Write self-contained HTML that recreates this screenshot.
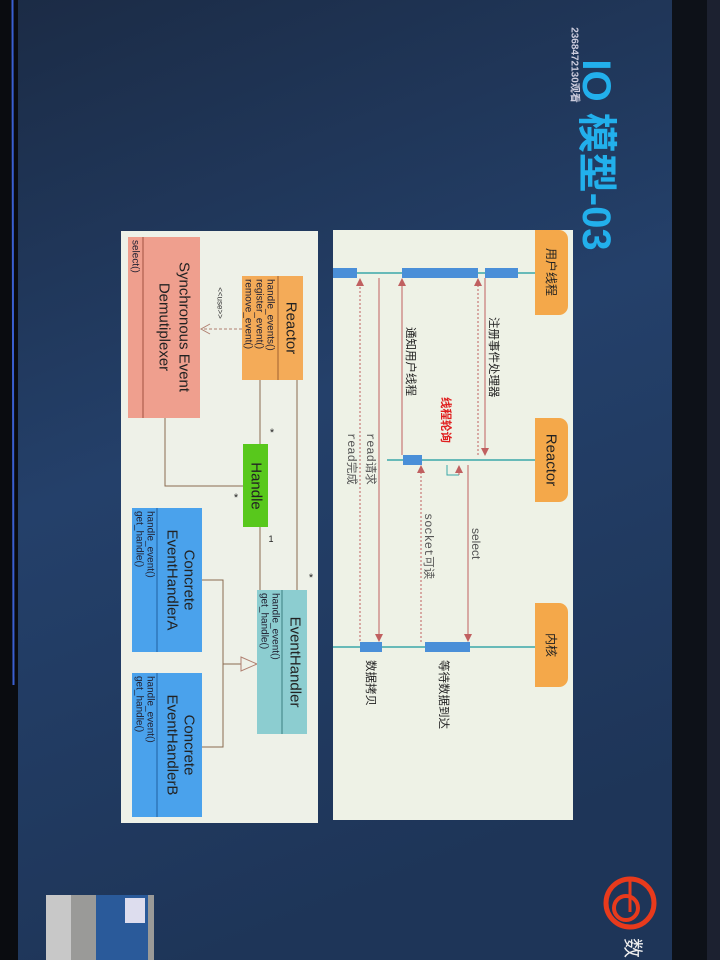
<!DOCTYPE html>
<html><head><meta charset="utf-8"><style>
html,body{margin:0;padding:0;width:720px;height:960px;overflow:hidden;background:#1f3556}
svg{display:block}
text{font-family:"Liberation Sans","Noto Sans CJK SC",sans-serif}
</style></head><body>
<svg width="720" height="960" viewBox="0 0 720 960" xmlns="http://www.w3.org/2000/svg">
<defs>
<linearGradient id="bg" x1="0" y1="0" x2="0.3" y2="1">
<stop offset="0" stop-color="#1b2b45"/><stop offset="0.5" stop-color="#24406a"/><stop offset="1" stop-color="#1e3558"/>
</linearGradient>
<marker id="ah" markerWidth="8" markerHeight="8" refX="7" refY="4" orient="auto" markerUnits="userSpaceOnUse"><path d="M0,0 L8,4 L0,8 z" fill="#c06060"/></marker>
</defs>
<rect width="720" height="960" fill="url(#bg)"/>
<rect x="0" y="0" width="18" height="960" fill="#0a0c10"/>
<line x1="12.5" y1="0" x2="13.5" y2="685" stroke="#3a5fd0" stroke-width="2"/>
<rect x="672" y="0" width="48" height="960" fill="#0d1118"/>
<rect x="707" y="0" width="13" height="960" fill="#1c2130"/>

<!-- title -->
<text transform="translate(596,155) rotate(90)" font-size="40" font-weight="bold" fill="#22b0ec" text-anchor="middle" dominant-baseline="central">IO 模型-03</text>
<text transform="translate(574,65) rotate(90)" font-size="10" font-weight="bold" fill="#ccd" text-anchor="middle" dominant-baseline="central">2368472130观看</text>

<!-- sequence panel -->
<rect x="333" y="230" width="240" height="590" fill="#eef2e6"/>
<g fill="#f4a84a">
<path d="M535,230 h24 a9,9 0 0 1 9,9 v67 a9,9 0 0 1 -9,9 h-24 z"/>
<path d="M535,418 h24 a9,9 0 0 1 9,9 v66 a9,9 0 0 1 -9,9 h-24 z"/>
<path d="M535,603 h24 a9,9 0 0 1 9,9 v66 a9,9 0 0 1 -9,9 h-24 z"/>
</g>
<g font-size="12" fill="#222" text-anchor="middle" dominant-baseline="central">
<text transform="translate(551,272) rotate(90)">用户线程</text>
<text transform="translate(551,460) rotate(90)" font-size="15">Reactor</text>
<text transform="translate(551,645) rotate(90)">内核</text>
</g>
<g stroke="#3aa8a8" stroke-width="1.5">
<line x1="333" y1="273" x2="535" y2="273"/>
<line x1="387" y1="460" x2="535" y2="460"/>
<line x1="333" y1="647" x2="535" y2="647"/>
</g>
<g fill="#4a8fd8">
<rect x="333" y="268" width="24" height="10"/>
<rect x="402" y="268" width="76" height="10"/>
<rect x="485" y="268" width="33" height="10"/>
<rect x="403" y="455" width="19" height="10"/>
<rect x="360" y="642" width="22" height="10"/>
<rect x="425" y="642" width="45" height="10"/>
</g>
<g stroke="#c06060" stroke-width="1" fill="none">
<line x1="485" y1="278" x2="485" y2="455" marker-end="url(#ah)"/>
<line x1="478" y1="455" x2="478" y2="279" stroke-dasharray="2,2" marker-end="url(#ah)"/>
<line x1="468" y1="465" x2="468" y2="641" marker-end="url(#ah)"/>
<line x1="421" y1="642" x2="421" y2="466" stroke-dasharray="2,2" marker-end="url(#ah)"/>
<line x1="402" y1="455" x2="402" y2="279" marker-end="url(#ah)"/>
<line x1="379" y1="278" x2="379" y2="641" marker-end="url(#ah)"/>
<line x1="360" y1="641" x2="360" y2="279" stroke-dasharray="2,2" marker-end="url(#ah)"/>
</g>
<path d="M447,465 V475 H459" stroke="#3aa8a8" fill="none"/>
<line x1="459" y1="475" x2="459" y2="466" stroke="#c06060" marker-end="url(#ah)"/>
<g font-size="11.5" fill="#222" dominant-baseline="central">
<text transform="translate(493,317) rotate(90)">注册事件处理器</text>
<text transform="translate(410,327) rotate(90)">通知用户线程</text>
<text transform="translate(445,397) rotate(90)" fill="#e02020" font-weight="bold">线程轮询</text>
<text transform="translate(476,528) rotate(90)" fill="#555" font-family="Liberation Mono,monospace" font-size="12">select</text>
<text transform="translate(428,513) rotate(90)" fill="#555"><tspan font-family="Liberation Mono,monospace" font-size="12">socket</tspan>可读</text>
<text transform="translate(370,433) rotate(90)" fill="#555"><tspan font-family="Liberation Mono,monospace" font-size="12">read</tspan>请求</text>
<text transform="translate(351,433) rotate(90)" fill="#555"><tspan font-family="Liberation Mono,monospace" font-size="12">read</tspan>完成</text>
<text transform="translate(443,660) rotate(90)">等待数据到达</text>
<text transform="translate(370,660) rotate(90)">数据拷贝</text>
</g>

<!-- UML panel -->
<rect x="121" y="231" width="197" height="592" fill="#eef1e8"/>
<g stroke="#8a6a50" stroke-width="1" fill="none">
<line x1="297" y1="380" x2="297" y2="590"/>
<line x1="260" y1="380" x2="260" y2="444"/>
<line x1="260" y1="527" x2="260" y2="590"/>
<path d="M165,418 V486 H243"/>
<path d="M202,580 H223 V747 H202"/>
<line x1="223" y1="664" x2="241" y2="664"/>
</g>
<path d="M241,657 L257,664 L241,671 z" fill="#eef1e8" stroke="#b08070"/>
<line x1="242" y1="329" x2="201" y2="329" stroke="#b08070" stroke-dasharray="3,2"/>
<path d="M210,324 L201,329 L210,334" fill="none" stroke="#b08070"/>
<text transform="translate(220,303) rotate(90)" font-size="8" fill="#333" text-anchor="middle" dominant-baseline="central">&lt;&lt;use&gt;&gt;</text>
<g font-size="11" fill="#222" text-anchor="middle" dominant-baseline="central">
<text x="272" y="433">*</text><text x="236" y="498">*</text><text x="311" y="578">*</text><text x="271" y="539" font-size="9">1</text>
</g>
<!-- boxes -->
<rect x="242" y="276" width="61" height="104" fill="#f4ab58"/>
<line x1="278" y1="276" x2="278" y2="380" stroke="#a06030"/>
<text transform="translate(291,328) rotate(90)" font-size="15" fill="#222" text-anchor="middle" dominant-baseline="central">Reactor</text>
<g font-size="10" fill="#223" dominant-baseline="central">
<text transform="translate(270,279) rotate(90)">handle_events()</text>
<text transform="translate(259,279) rotate(90)">register_event()</text>
<text transform="translate(248,279) rotate(90)">remove_event()</text>
</g>
<rect x="128" y="237" width="72" height="181" fill="#ef9f8e"/>
<line x1="143" y1="237" x2="143" y2="418" stroke="#a05040"/>
<text transform="translate(184,327) rotate(90)" font-size="15" fill="#222" text-anchor="middle" dominant-baseline="central">Synchronous Event</text>
<text transform="translate(164,327) rotate(90)" font-size="15" fill="#222" text-anchor="middle" dominant-baseline="central">Demutiplexer</text>
<text transform="translate(135,240) rotate(90)" font-size="10" fill="#223" dominant-baseline="central">select()</text>
<rect x="243" y="444" width="25" height="83" fill="#58c81c"/>
<text transform="translate(256,486) rotate(90)" font-size="15" fill="#222" text-anchor="middle" dominant-baseline="central">Handle</text>
<rect x="257" y="590" width="50" height="144" fill="#8ccdd0"/>
<line x1="282" y1="590" x2="282" y2="734" stroke="#3a8080"/>
<text transform="translate(295,662) rotate(90)" font-size="15" fill="#222" text-anchor="middle" dominant-baseline="central">EventHandler</text>
<g font-size="10" fill="#223" dominant-baseline="central">
<text transform="translate(275,593) rotate(90)">handle_event()</text>
<text transform="translate(264,593) rotate(90)">get_handle()</text>
</g>
<rect x="132" y="508" width="70" height="144" fill="#4aa2ec"/>
<line x1="157" y1="508" x2="157" y2="652" stroke="#2060a0"/>
<text transform="translate(189,580) rotate(90)" font-size="15" fill="#222" text-anchor="middle" dominant-baseline="central">Concrete</text>
<text transform="translate(172,580) rotate(90)" font-size="15" fill="#222" text-anchor="middle" dominant-baseline="central">EventHandlerA</text>
<g font-size="10" fill="#223" dominant-baseline="central">
<text transform="translate(150,511) rotate(90)">handle_event()</text>
<text transform="translate(139,511) rotate(90)">get_handle()</text>
</g>
<rect x="132" y="673" width="70" height="144" fill="#4aa2ec"/>
<line x1="157" y1="673" x2="157" y2="817" stroke="#2060a0"/>
<text transform="translate(189,745) rotate(90)" font-size="15" fill="#222" text-anchor="middle" dominant-baseline="central">Concrete</text>
<text transform="translate(172,745) rotate(90)" font-size="15" fill="#222" text-anchor="middle" dominant-baseline="central">EventHandlerB</text>
<g font-size="10" fill="#223" dominant-baseline="central">
<text transform="translate(150,676) rotate(90)">handle_event()</text>
<text transform="translate(139,676) rotate(90)">get_handle()</text>
</g>

<!-- logo -->
<circle cx="630" cy="903" r="24" fill="none" stroke="#e83a1c" stroke-width="5"/>
<circle cx="626" cy="908" r="12" fill="none" stroke="#e83a1c" stroke-width="4"/>
<line x1="630" y1="878" x2="630" y2="912" stroke="#e83a1c" stroke-width="3"/>
<text transform="translate(632,948) rotate(90)" font-size="20" fill="#eee" text-anchor="middle" dominant-baseline="central">数</text>

<!-- webcam -->
<rect x="46" y="895" width="108" height="65" fill="#9a9a98"/>
<rect x="96" y="895" width="52" height="65" fill="#2a5a9a"/>
<rect x="125" y="898" width="20" height="25" fill="#dde"/>
<rect x="46" y="895" width="25" height="65" fill="#c8c8c8"/>
</svg>
</body></html>
